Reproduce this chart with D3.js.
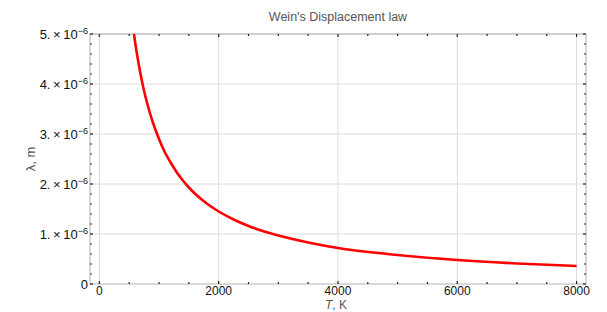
<!DOCTYPE html>
<html>
<head>
<meta charset="utf-8">
<script src="https://cdn.jsdelivr.net/npm/d3@7"></script>
<style>
  body { margin: 0; background: #fff; }
  text { font-family: "Liberation Sans", Arial, sans-serif; }
</style>
</head>
<body>
<div id="chart"></div>
<script>
// temperature (K) and peak wavelength (m)
var temps = [580, 600, 650, 700, 750, 800, 900, 1000, 1100, 1200, 1300, 1400, 1500, 1600, 1800,
             2000, 2250, 2500, 3000, 3500, 4000, 5000, 6000, 7000, 8000];
var lambdas = [5.0e-6, 4.83e-6, 4.46e-6, 4.14e-6, 3.86e-6, 3.62e-6, 3.22e-6, 2.90e-6,
               2.63e-6, 2.42e-6, 2.23e-6, 2.07e-6, 1.93e-6, 1.81e-6, 1.61e-6, 1.45e-6,
               1.29e-6, 1.16e-6, 0.97e-6, 0.83e-6, 0.72e-6, 0.58e-6, 0.48e-6, 0.41e-6, 0.36e-6];
var x_ticks = [0, 2000, 4000, 6000, 8000];
var y_ticks = [0, 1e-6, 2e-6, 3e-6, 4e-6, 5e-6];
var y_tick_mant = ['0', '1.', '2.', '3.', '4.', '5.'];

var data = temps.map(function(t, i){ return { t: t, l: lambdas[i] }; });

var chart_width = 607;
var chart_height = 312;
var pl = 90, pr = 586, pt = 34, pb = 284;

var svg = d3.select('#chart')
          .append('svg')
          .attr('width', chart_width)
          .attr('height', chart_height);

var x_scale = d3.scaleLinear()
              .domain([-157, 8158])
              .range([pl, pr]);

var y_scale = d3.scaleLinear()
              .domain([0, 5e-6])
              .range([pb, pt]);

// grid lines
svg.selectAll('.gx')
 .data(x_ticks)
 .enter()
 .append('line')
 .attr('x1', function(d){ return x_scale(d); })
 .attr('x2', function(d){ return x_scale(d); })
 .attr('y1', pt).attr('y2', pb)
 .attr('stroke', '#dcdcdc')
 .attr('stroke-width', 1);

svg.selectAll('.gy')
 .data(y_ticks.slice(1))
 .enter()
 .append('line')
 .attr('y1', function(d){ return y_scale(d); })
 .attr('y2', function(d){ return y_scale(d); })
 .attr('x1', pl).attr('x2', pr)
 .attr('stroke', '#dcdcdc')
 .attr('stroke-width', 1);

// frame
svg.append('rect')
 .attr('x', pl).attr('y', pt)
 .attr('width', pr - pl).attr('height', pb - pt)
 .attr('fill', 'none')
 .attr('stroke', '#b0b0b0')
 .attr('stroke-width', 1);

// minor/major tick marks, inward on all four sides
var x_minor = d3.range(0, 8001, 500);
var y_minor = d3.range(0, 51).map(function(i){ return i * 1e-7; });

x_minor.forEach(function(t){
  var len = (t % 2000 === 0) ? 3 : 2;
  var xx = x_scale(t);
  svg.append('line').attr('x1', xx).attr('x2', xx)
    .attr('y1', pb).attr('y2', pb - len)
    .attr('stroke', '#222').attr('stroke-width', 1.2);
  svg.append('line').attr('x1', xx).attr('x2', xx)
    .attr('y1', pt).attr('y2', pt + len)
    .attr('stroke', '#222').attr('stroke-width', 1.2);
});

y_minor.forEach(function(v, i){
  if (i % 2) return;
  var len = (i % 10 === 0) ? 3 : 2;
  var yy = y_scale(v);
  svg.append('line').attr('x1', pl).attr('x2', pl + len)
    .attr('y1', yy).attr('y2', yy)
    .attr('stroke', '#222').attr('stroke-width', 1.2);
  svg.append('line').attr('x1', pr).attr('x2', pr - len)
    .attr('y1', yy).attr('y2', yy)
    .attr('stroke', '#222').attr('stroke-width', 1.2);
});

// curve
var line = d3.line()
  .x(function(d){ return x_scale(d.t); })
  .y(function(d){ return y_scale(d.l); })
  .curve(d3.curveMonotoneX);

svg.append('path')
 .datum(data)
 .attr('d', line)
 .attr('fill', 'none')
 .attr('stroke', '#ff0000')
 .attr('stroke-width', 2.6);

// x tick labels
svg.selectAll('.xl')
 .data(x_ticks)
 .enter()
 .append('text')
 .text(function(d){ return d; })
 .attr('x', function(d){ return x_scale(d); })
 .attr('y', 295)
 .attr('text-anchor', 'middle')
 .attr('font-size', 12)
 .attr('fill', '#111');

// y tick labels
y_ticks.forEach(function(v, i){
  var t = svg.append('text')
    .attr('x', 88)
    .attr('y', y_scale(v) + 4.5)
    .attr('text-anchor', 'end')
    .attr('font-size', 13)
    .attr('fill', '#111');
  if (i === 0) { t.text('0'); return; }
  t.append('tspan').text(y_tick_mant[i] + '\u2009\u00d7\u200910');
  t.append('tspan').attr('dy', -5).attr('font-size', 9).text('\u22126');
});

// title and axis labels
svg.append('text')
 .text("Wein's Displacement law")
 .attr('x', 338).attr('y', 21)
 .attr('text-anchor', 'middle')
 .attr('font-size', 12.5)
 .attr('fill', '#555');

var xl = svg.append('text')
 .attr('x', 336).attr('y', 309)
 .attr('text-anchor', 'middle')
 .attr('font-size', 12)
 .attr('fill', '#555');
xl.append('tspan').attr('font-style', 'italic').text('T');
xl.append('tspan').text(', K');

svg.append('text')
 .text('\u03bb, m')
 .attr('transform', 'translate(35,159) rotate(-90)')
 .attr('text-anchor', 'middle')
 .attr('font-size', 13)
 .attr('fill', '#555');
</script>
</body>
</html>
